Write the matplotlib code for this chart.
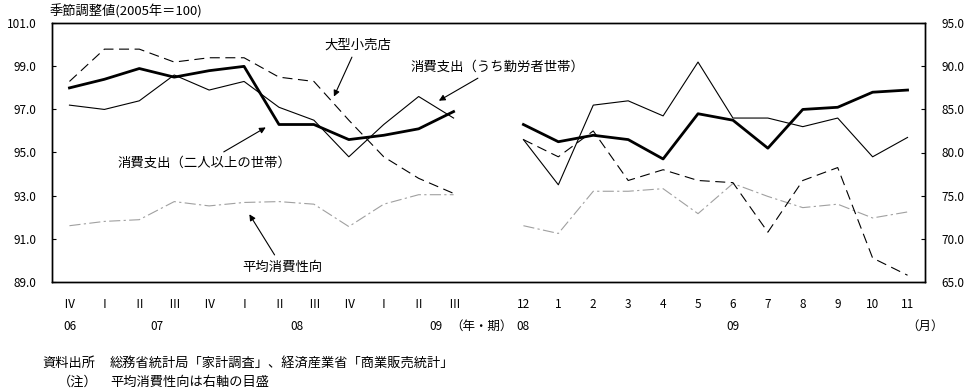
import matplotlib
matplotlib.use("Agg")
import matplotlib.pyplot as plt
import matplotlib.transforms as mtransforms

plt.rcParams['font.family'] = ['Noto Sans CJK JP', 'DejaVu Sans']

# 四半期 (06年IV期〜09年III期)
q_labels = ['Ⅳ', 'Ⅰ', 'Ⅱ', 'Ⅲ', 'Ⅳ', 'Ⅰ', 'Ⅱ', 'Ⅲ', 'Ⅳ', 'Ⅰ', 'Ⅱ', 'Ⅲ']
futari_q = [98.0, 98.4, 98.9, 98.5, 98.8, 99.0, 96.3, 96.3, 95.6, 95.8, 96.1, 96.9]
kinrou_q = [97.2, 97.0, 97.4, 98.6, 97.9, 98.3, 97.1, 96.5, 94.8, 96.3, 97.6, 96.6]
ogata_q = [98.3, 99.8, 99.8, 99.2, 99.4, 99.4, 98.5, 98.3, 96.5, 94.8, 93.8, 93.1]
heikin_q = [71.5, 72.0, 72.2, 74.3, 73.8, 74.2, 74.3, 74.0, 71.4, 74.0, 75.1, 75.1]

# 月次 (08年12月〜09年11月)
m_labels = ['12', '1', '2', '3', '4', '5', '6', '7', '8', '9', '10', '11']
futari_m = [96.3, 95.5, 95.8, 95.6, 94.7, 96.8, 96.5, 95.2, 97.0, 97.1, 97.8, 97.9]
kinrou_m = [95.6, 93.5, 97.2, 97.4, 96.7, 99.2, 96.6, 96.6, 96.2, 96.6, 94.8, 95.7]
ogata_m = [95.6, 94.8, 96.0, 93.7, 94.2, 93.7, 93.6, 91.3, 93.7, 94.3, 90.1, 89.3]
heikin_m = [71.5, 70.6, 75.5, 75.5, 75.8, 72.9, 76.4, 74.9, 73.6, 74.0, 72.4, 73.1]

# 年ラベル
year_labels = ['06', '07', '08', '09', '08', '09']
year_pos = [0, 2.5, 6.5, 10.5, 13, 19]

left_ticks = [89, 91, 93, 95, 97, 99, 101]
right_ticks = [65, 70, 75, 80, 85, 90, 95]

fig = plt.figure(figsize=(9.7, 3.9), dpi=100)
ax = fig.add_axes([52/970, (390-281.7)/390, (925-52)/970, (281.7-23.3)/390])
ax2 = ax.twinx()

xq = list(range(len(q_labels)))
xm = [i + len(q_labels) + 1 for i in range(len(m_labels))]

for xs, f, k, o, h in [(xq, futari_q, kinrou_q, ogata_q, heikin_q),
                       (xm, futari_m, kinrou_m, ogata_m, heikin_m)]:
    ax2.plot(xs, h, color='#a0a0a0', lw=0.8, dashes=(10, 3, 2, 3))
    ax.plot(xs, o, color='black', lw=0.8, dashes=(9, 5))
    ax.plot(xs, k, color='black', lw=0.8)
    ax.plot(xs, f, color='black', lw=2.0)

ax.set_xlim(-0.5, 24.5)
ax.set_ylim(89, 101)
ax2.set_ylim(65, 95)
ax.set_yticks(left_ticks)
ax.set_yticklabels([f"{v:.1f}" for v in left_ticks])
ax2.set_yticks(right_ticks)
ax2.set_yticklabels([f"{v:.1f}" for v in right_ticks])
ax.set_xticks(xq + xm)
ax.set_xticklabels(q_labels + m_labels)

ax.tick_params(axis='y', direction='in', length=3, pad=11, labelsize=8.5)
ax2.tick_params(axis='y', direction='in', length=3, pad=12, labelsize=8.5)
ax.tick_params(axis='x', length=0, pad=12, labelsize=8.5)
for a in (ax, ax2):
    for s in a.spines.values():
        s.set_linewidth(1.0)

ax.set_zorder(ax2.get_zorder() + 1)
ax.patch.set_visible(False)

arrow = dict(arrowstyle='-|>', color='black', lw=0.8, mutation_scale=9)
ax.annotate('大型小売店', xy=(7.54, 97.48), xytext=(8.25, 100.0),
            ha='center', va='center', fontsize=9.6, arrowprops=arrow)
ax.annotate('消費支出（うち勤労者世帯）', xy=(10.51, 97.34), xytext=(9.76, 98.97),
            ha='left', va='center', fontsize=9.6, arrowprops=arrow)
ax.annotate('消費支出（二人以上の世帯）', xy=(5.69, 96.23), xytext=(3.87, 94.51),
            ha='center', va='center', fontsize=9.6, arrowprops=arrow)
ax.annotate('平均消費性向', xy=(5.11, 92.24), xytext=(6.09, 89.68),
            ha='center', va='center', fontsize=9.6, arrowprops=arrow)

trans = mtransforms.blended_transform_factory(ax.transData, fig.transFigure)
for p, t in zip(year_pos, year_labels):
    ax.text(p, (390-326)/390, t, transform=trans, ha='center', va='center', fontsize=8.5)
ax.text(11.8, (390-326)/390, '（年・期）', transform=trans, ha='center', va='center', fontsize=9)
ax.text(24.5, (390-326)/390, '（月）', transform=trans, ha='center', va='center', fontsize=9)

fig.text(50/970, (390-11)/390, '季節調整値(2005年＝100)', ha='left', va='center', fontsize=9.5)
fig.text(42/970, (390-363)/390, '資料出所', ha='left', va='center', fontsize=9.5)
fig.text(110/970, (390-363)/390, '総務省統計局「家計調査」、経済産業省「商業販売統計」',
         ha='left', va='center', fontsize=9.5)
fig.text(58/970, (390-382)/390, '（注）', ha='left', va='center', fontsize=9.5)
fig.text(110/970, (390-382)/390, '平均消費性向は右軸の目盛', ha='left', va='center', fontsize=9.5)

fig.savefig('out.png', dpi=100)
